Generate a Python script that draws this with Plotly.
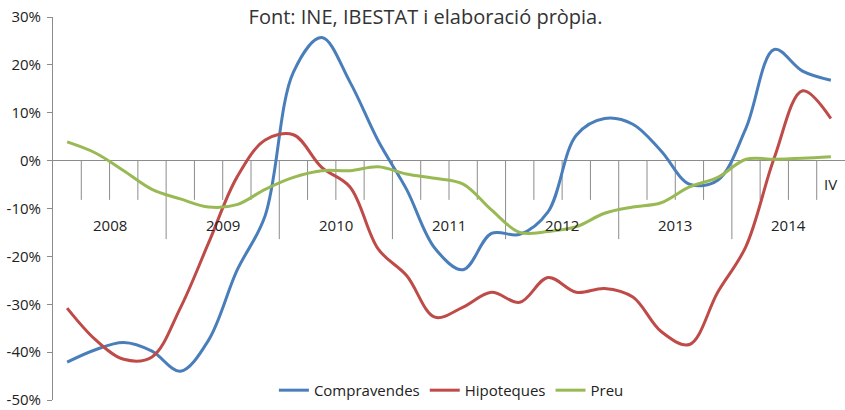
import plotly.graph_objects as go

years = ["2008", "2009", "2010", "2011", "2012", "2013", "2014"]
quarters = ["I", "II", "III", "IV"]
periods = [f"{y} {q}" for y in years for q in quarters]

compravendes = [-42.1, -39.5, -38.0, -39.8, -44.0, -37.5, -23.0, -11.5, 18.5, 25.7, 16.4, 4.1,
                -6.0, -18.3, -22.8, -15.2, -15.4, -10.7, 5.3, 8.8, 7.6, 2.0, -4.9, -4.1,
                6.8, 23.2, 18.7, 16.8]
hipoteques = [-30.8, -37.4, -41.5, -41.0, -30.8, -17.2, -3.5, 4.3, 5.4, -1.4, -5.5, -18.5,
              -24.0, -32.7, -30.6, -27.5, -29.6, -24.4, -27.5, -26.7, -28.5, -35.7, -38.4, -27.5,
              -17.9, 0.6, 14.6, 8.8]
preu = [3.9, 1.6, -2.1, -6.0, -8.0, -9.7, -9.2, -6.0, -3.5, -2.1, -2.1, -1.3,
        -2.8, -3.7, -4.9, -10.3, -15.0, -14.8, -13.8, -11.0, -9.7, -8.8, -5.5, -3.5,
        0.3, 0.3, 0.5, 0.8]

series_names = ["Compravendes", "Hipoteques", "Preu"]
series_colors = ["#4A7EBB", "#BE4B48", "#98B954"]

y_tickvals = [30, 20, 10, 0, -10, -20, -30, -40, -50]
y_ticktext = [f"{v}%" for v in y_tickvals]

title_text = "Font: INE, IBESTAT i elaboració pròpia."
last_quarter_label = "IV"

x = list(range(len(periods)))

fig = go.Figure()
for name, vals, col in zip(series_names, [compravendes, hipoteques, preu], series_colors):
    fig.add_trace(go.Scatter(
        x=x, y=vals, name=name, mode="lines",
        line=dict(color=col, width=3, shape="spline", smoothing=1.0),
        customdata=periods,
        hovertemplate="%{customdata}: %{y:.1f}%<extra>" + name + "</extra>",
    ))

# category tick marks hanging below the zero line
shapes = []
for k in range(1, len(periods)):
    xb = k - 0.5
    long = (k % 4 == 0)
    shapes.append(dict(type="line", xref="x", yref="y", x0=xb, x1=xb,
                       y0=0, y1=-16.4 if long else -8.2,
                       line=dict(color="#8C8C8C", width=1), layer="below"))

annotations = []
for j, yr in enumerate(years):
    annotations.append(dict(x=4 * j + 1.5, y=-13.4, xref="x", yref="y", text=yr,
                            showarrow=False, font=dict(size=15, color="#222222",
                                                       family="Open Sans")))
annotations.append(dict(x=len(periods) - 1, y=-4.9, xref="x", yref="y",
                        text=last_quarter_label, showarrow=False,
                        font=dict(size=15, color="#222222", family="Open Sans")))

fig.update_layout(
    width=845, height=410,
    margin=dict(l=53, r=0, t=17, b=10, autoexpand=False),
    paper_bgcolor="white", plot_bgcolor="white",
    font=dict(family="Open Sans", color="#222222"),
    title=dict(text=title_text, x=0.5036, xanchor="center", y=(410 - 17) / 410,
               yanchor="middle", yref="container",
               font=dict(size=20, color="#333333", family="Open Sans")),
    xaxis=dict(range=[-0.5, len(periods) - 0.5], showgrid=False, zeroline=False,
               showline=False, showticklabels=False, ticks="", automargin=False),
    yaxis=dict(range=[-50, 30], tickvals=y_tickvals, ticktext=y_ticktext,
               showgrid=False, zeroline=True, zerolinecolor="#8C8C8C", zerolinewidth=1,
               showline=True, linecolor="#8C8C8C", linewidth=1,
               ticks="outside", ticklen=5, tickcolor="#8C8C8C",
               ticklabelstandoff=3, ticklabeloverflow="allow", automargin=False,
               tickfont=dict(size=15, color="#222222", family="Open Sans")),
    legend=dict(orientation="h", x=0.503, xanchor="center", y=0.025, yanchor="middle",
                bgcolor="rgba(0,0,0,0)", font=dict(size=15, color="#222222"),
                itemwidth=30),
    shapes=shapes,
    annotations=annotations,
    showlegend=True,
)

fig.write_html("out.html", config={"displayModeBar": False},
               post_script="document.body.style.margin='0';")
